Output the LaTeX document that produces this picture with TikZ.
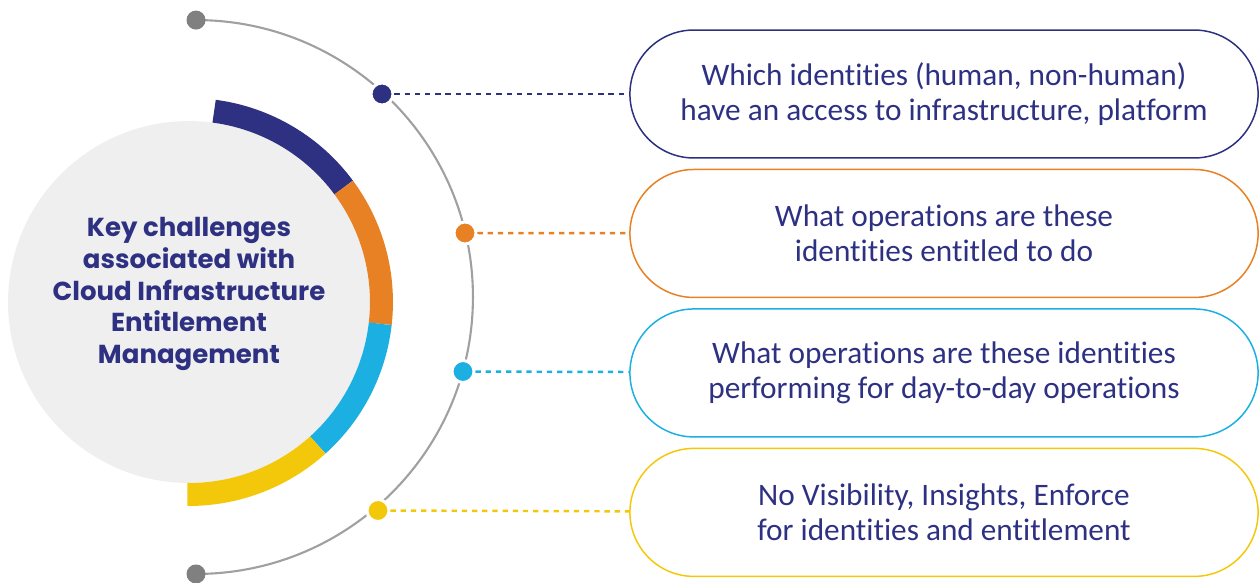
\documentclass[tikz,border=0pt]{standalone}
\usepackage{fontspec}
\setmainfont{Carlito}[Ligatures=NoCommon]
\newfontfamily\keyfont{Poppins}
\usetikzlibrary{calc}
\usetikzlibrary{positioning}
\usetikzlibrary{shapes.misc}
\definecolor{navyink}{RGB}{46, 49, 130}
\definecolor{carrot}{RGB}{232, 128, 36}
\definecolor{skyblue}{RGB}{28, 176, 226}
\definecolor{sunflower}{RGB}{244, 200, 10}
\definecolor{cloudgray}{RGB}{239, 239, 239}
\definecolor{arcgray}{RGB}{160, 160, 160}
\definecolor{pingray}{RGB}{128, 128, 128}
\tikzset{
  pill/.style={rounded rectangle, draw=#1, line width=0.85pt, minimum width=12.8cm,
               minimum height=2.56cm, align=center, text=navyink,
               font=\fontsize{17.8}{19.8}\selectfont},
  pin/.style={circle, fill=#1, draw=white, line width=1.7pt, minimum size=0.44cm, inner sep=0pt},
  endpin/.style={circle, fill=pingray, minimum size=0.38cm, inner sep=0pt},
  leader/.style={#1, line width=1.4pt, dash pattern=on 3pt off 2.8pt},
  band/.style={#1, line width=0.46cm},
}

\begin{document}
\begin{tikzpicture}[x=0.02cm, y=-0.02cm]
            \useasboundingbox (0,0) rectangle (1260,582);
            % hub circle and coloured band
            \coordinate (hub)   at (189,302);
            \coordinate (track) at (196,297);
            \fill[cloudgray] (hub) circle (3.62cm);
            \draw[band=navyink]   (hub) ++(82.5:3.85cm) arc[start angle=82.5, end angle=36.5,  radius=3.85cm];
            \draw[band=carrot]    (hub) ++(36.5:3.85cm) arc[start angle=36.5, end angle=-6.5,  radius=3.85cm];
            \draw[band=skyblue]   (hub) ++(-6.5:3.85cm) arc[start angle=-6.5, end angle=-48,   radius=3.85cm];
            \draw[band=sunflower] (hub) ++(-48:3.85cm)  arc[start angle=-48,  end angle=-90.5, radius=3.85cm];
            \node[font=\keyfont\bfseries\fontsize{14.8}{18.1}\selectfont, text=navyink, align=center]
                 (title) at (189,294) {Key challenges\\associated with\\Cloud Infrastructure\\Entitlement\\Management};
            % outer track
            \draw[arcgray, line width=1.2pt] (track) ++(90:5.54cm) arc[start angle=90, end angle=-90, radius=5.54cm];
            \node[endpin] (trackstart) at ($(track)+(90:5.54cm)$)  {};
            \node[endpin] (trackend)   at ($(track)+(-90:5.54cm)$) {};
            % challenge pills
            \node[pill=navyink] (access) at (944,94)
                 {Which identities (human, non-human)\\have an access to infrastructure, platform};
            \node[pill=carrot,    below=0.2cm of access]   (entitled)
                 {What operations are these\\identities entitled to do};
            \node[pill=skyblue,   below=0.2cm of entitled] (performing)
                 {What operations are these identities\\performing for day-to-day operations};
            \node[pill=sunflower, below=0.2cm of performing] (visibility)
                 {No Visibility, Insights, Enforce\\for identities and entitlement};
            % pins on the track
            \node[pin=navyink]   (pinA) at (382,94)    {};
            \node[pin=carrot]    (pinB) at (465,233)   {};
            \node[pin=skyblue]   (pinC) at (463,371.5) {};
            \node[pin=sunflower] (pinD) at (378,510.5) {};
            \draw[leader=navyink]   (pinA) -- (access);
            \draw[leader=carrot]    (pinB) -- (entitled);
            \draw[leader=skyblue]   (pinC) -- (performing);
            \draw[leader=sunflower] (pinD) -- (visibility);
\end{tikzpicture}
\end{document}
